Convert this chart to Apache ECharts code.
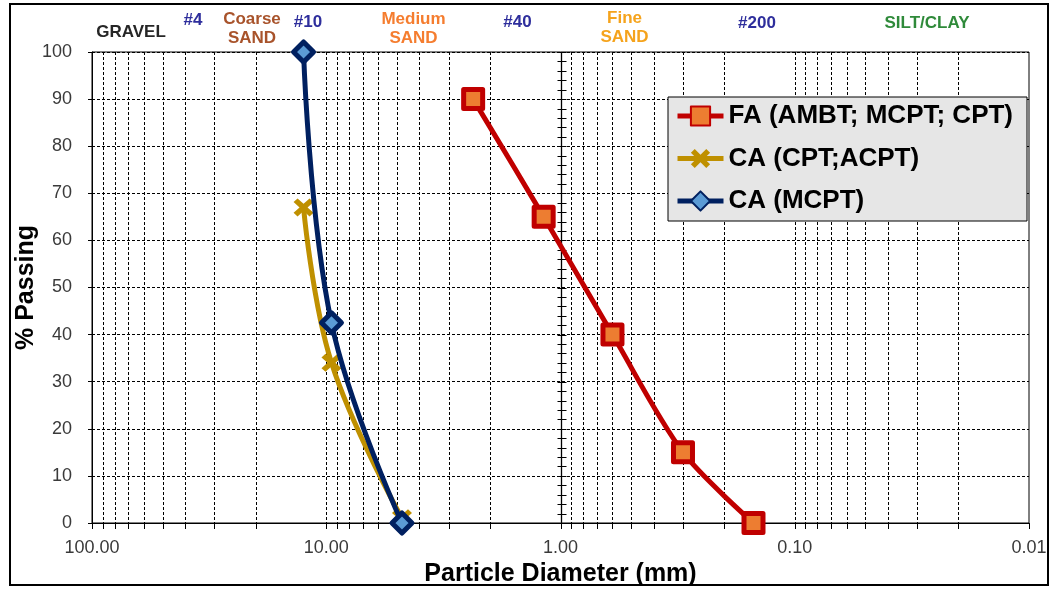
<!DOCTYPE html>
<html><head><meta charset="utf-8">
<script src="https://cdn.jsdelivr.net/npm/echarts@6/dist/echarts.min.js"></script>
<style>html,body{margin:0;padding:0;background:#fff}#chart{width:1055px;height:592px}</style>
</head><body><div id="chart"></div>
<script>
// ---- data ----
const faDiameter = [2.36, 1.18, 0.6, 0.3, 0.15];
const faPassing = [90, 65, 40, 15, 0];
const caCptDiameter = [12.5, 9.5, 4.75];
const caCptPassing = [67, 34, 1];
const caMcptDiameter = [12.5, 9.5, 4.75];
const caMcptPassing = [100, 42.5, 0];
const seriesNames = ['FA (AMBT; MCPT; CPT)', 'CA (CPT;ACPT)', 'CA (MCPT)'];
const xTickValues = [100, 10, 1, 0.1, 0.01];
const xTickLabels = ['100.00', '10.00', '1.00', '0.10', '0.01'];
const decades = [10, 1, 0.1, 0.01];
const minorMultipliers = [2, 3, 4, 5, 6, 7, 8, 9];
const yMinorStep = 2;
const zoneLabels = ['GRAVEL', '#4', 'Coarse\nSAND', '#10', 'Medium\nSAND', '#40', 'Fine\nSAND', '#200', 'SILT/CLAY'];

// ---- layout / style ----
const zoneLayout = [
  {x:131, y:32, c:'#262626'}, {x:193, y:20, c:'#2E2E9C'}, {x:252, y:28.5, c:'#A8532B'},
  {x:308, y:22, c:'#2E2E9C'}, {x:413.5, y:28.5, c:'#F57D2F'}, {x:517.5, y:22, c:'#2E2E9C'},
  {x:624.5, y:28, c:'#F5A31C'}, {x:757, y:23, c:'#2E2E9C'}, {x:927, y:23, c:'#2F8A3A'}
];
const FONT = '"Liberation Sans", Arial, sans-serif';

const minorX = [];
decades.forEach(d => minorMultipliers.forEach(m => minorX.push(+(d * m).toPrecision(6))));
const dashedX = minorX.concat([10, 0.1]);
const tickX = dashedX.concat([100, 1, 0.01]);
const yMin = 0, yMax = 100;
const yMinorTicks = [];
for (let v = yMin; v <= yMax; v += yMinorStep) yMinorTicks.push(v);

const crisp = v => Math.round(v) + 0.5;

function renderVGrid(params, api) {
  const x = api.value(0);
  const t = api.coord([x, yMax]);
  const b = api.coord([x, yMin]);
  const px = crisp(t[0]);
  return {type:'line', shape:{x1:px, y1:t[1], x2:px, y2:b[1]},
    style:{stroke:'#000', lineWidth:1, lineDash:[3, 2]}};
}
function renderXTick(params, api) {
  const x = api.value(0);
  const b = api.coord([x, yMin]);
  const px = crisp(b[0]);
  return {type:'line', shape:{x1:px, y1:b[1], x2:px, y2:b[1] + 6},
    style:{stroke:'#000', lineWidth:1}};
}
function renderCrossAxis(params, api) {
  const x = api.value(0);
  const t = api.coord([x, yMax]);
  const b = api.coord([x, yMin]);
  const px = crisp(t[0]);
  const children = [{type:'line', shape:{x1:px, y1:t[1], x2:px, y2:b[1]}, style:{stroke:'#000', lineWidth:1.3}}];
  yMinorTicks.forEach(v => {
    const p = api.coord([x, v]);
    const py = crisp(p[1]);
    children.push({type:'line', shape:{x1:px - 4, y1:py, x2:px + 5, y2:py}, style:{stroke:'#000', lineWidth:1}});
  });
  return {type:'group', children};
}

const xSymbol = 'path://M2,0 L5,3 L8,0 L10,2 L7,5 L10,8 L8,10 L5,7 L2,10 L0,8 L3,5 L0,2 Z';

const chart = echarts.init(document.getElementById('chart'));
chart.setOption({
  animation: false,
  backgroundColor: '#fff',
  textStyle: {fontFamily: FONT},
  grid: {left: 92, right: 26, top: 52, bottom: 69, show: true, borderColor: '#000', borderWidth: 1,
         backgroundColor: 'transparent', containLabel: false, outerBoundsMode: 'none'},
  legend: {
    orient: 'vertical', left: 668, top: 97,
    backgroundColor: '#E6E6E6', borderColor: '#000', borderWidth: 1,
    padding: [5, 14, 6, 7], itemWidth: 46, itemHeight: 24, itemGap: 14.5,
    lineStyle: {width: 5},
    textStyle: {fontSize: 26, fontWeight: 'bold', color: '#000', fontFamily: FONT, lineHeight: 28},
    data: seriesNames
  },
  xAxis: {
    type: 'log', logBase: 10, min: 0.01, max: 100, inverse: true,
    name: 'Particle Diameter (mm)', nameLocation: 'middle', nameGap: 39, nameMoveOverlap: false,
    nameTextStyle: {fontSize: 25, fontWeight: 'bold', color: '#000', fontFamily: FONT},
    axisLine: {show: true, lineStyle: {color: '#000', width: 1}},
    axisTick: {show: false},
    splitLine: {show: false},
    axisLabel: {
      show: true, fontSize: 18, color: '#3a3a3a', fontFamily: FONT, margin: 16,
      showMinLabel: true, showMaxLabel: true,
      formatter: v => {
        const i = xTickValues.findIndex(t => Math.abs(Math.log10(t) - Math.log10(v)) < 1e-6);
        return i >= 0 ? xTickLabels[i] : '';
      }
    }
  },
  yAxis: {
    type: 'value', min: yMin, max: yMax, interval: 10,
    name: '% Passing', nameLocation: 'middle', nameGap: 53, nameRotate: 90, nameMoveOverlap: false,
    nameTextStyle: {fontSize: 25, fontWeight: 'bold', color: '#000', fontFamily: FONT},
    axisLine: {show: true, lineStyle: {color: '#000', width: 1}},
    axisTick: {show: true, length: 4, lineStyle: {color: '#000'}},
    splitLine: {show: true, lineStyle: {color: '#000', type: [3, 2], width: 1}},
    axisLabel: {fontSize: 18, color: '#3a3a3a', fontFamily: FONT, margin: 20}
  },
  graphic: [
    {type: 'rect', shape: {x: 10, y: 4, width: 1038, height: 581},
     style: {fill: 'none', stroke: '#000', lineWidth: 2}, z: 100}
  ].concat(zoneLabels.map((t, i) => ({
    type: 'text', x: zoneLayout[i].x, y: zoneLayout[i].y,
    style: {text: t, fill: zoneLayout[i].c, font: 'bold 17px ' + FONT,
            align: 'center', verticalAlign: 'middle', lineHeight: 19}
  }))),
  series: [
    {type: 'custom', silent: true, clip: false, z: 1, renderItem: renderVGrid,
     encode: {x: 0}, data: dashedX.map(v => [v, 0])},
    {type: 'custom', silent: true, clip: false, z: 1, renderItem: renderXTick,
     encode: {x: 0}, data: tickX.map(v => [v, 0])},
    {type: 'custom', silent: true, clip: false, z: 2, renderItem: renderCrossAxis,
     encode: {x: 0}, data: [[1, 0]]},
    {
      name: seriesNames[0], type: 'line', z: 5, smooth: 0.3,
      data: faDiameter.map((d, i) => [d, faPassing[i]]),
      symbol: 'rect', symbolSize: 19,
      lineStyle: {color: '#C00000', width: 5},
      itemStyle: {color: '#ED7D31', borderColor: '#C00000', borderWidth: 5, borderJoin: 'round'}
    },
    {
      name: seriesNames[1], type: 'line', z: 5, smooth: 0.4,
      data: caCptDiameter.map((d, i) => [d, caCptPassing[i]]),
      symbol: xSymbol, symbolSize: [20, 18],
      lineStyle: {color: '#BF9000', width: 5},
      itemStyle: {color: '#BF9000', borderWidth: 0}
    },
    {
      name: seriesNames[2], type: 'line', z: 6, smooth: 0.4,
      data: caMcptDiameter.map((d, i) => [d, caMcptPassing[i]]),
      symbol: 'diamond', symbolSize: 20,
      lineStyle: {color: '#002060', width: 5},
      itemStyle: {color: '#5B9BD5', borderColor: '#002060', borderWidth: 5, borderJoin: 'round'}
    }
  ]
});
</script></body></html>
